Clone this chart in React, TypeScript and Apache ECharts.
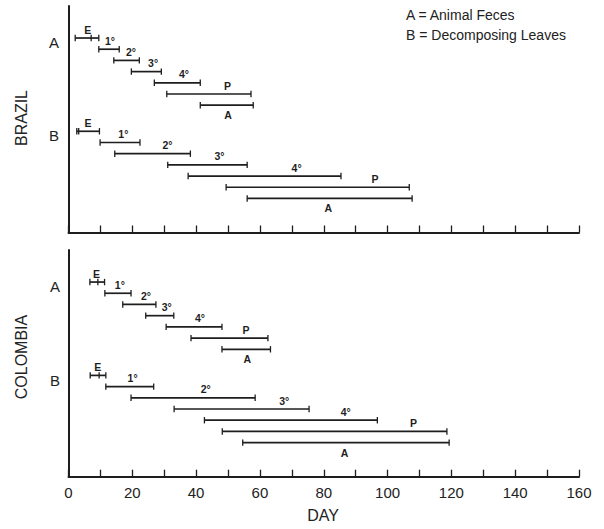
import React, { useEffect, useRef } from "react";
import * as echarts from "echarts";

// ---- data (days) ----
const stages = ["E", "1°", "2°", "3°", "4°", "P", "A"];
const dayTicks = [0, 20, 40, 60, 80, 100, 120, 140, 160];

// Brazil, A = animal feces
const brazilAStart = [2.1, 9.5, 14.2, 19.7, 26.9, 30.8, 41.3];
const brazilAEnd = [9.5, 15.9, 22.2, 29.1, 41.3, 57.2, 57.9];
const brazilALabelAt = [6.0, 13.0, 19.6, 26.5, 36.2, 49.8, 50.0];
const brazilAEggTick = 7.1;
// Brazil, B = decomposing leaves
const brazilBStart = [2.6, 9.9, 14.5, 31.1, 37.5, 49.4, 56.0];
const brazilBEnd = [9.7, 22.4, 38.2, 56.0, 85.4, 106.8, 107.7];
const brazilBLabelAt = [6.1, 17.2, 31.0, 47.3, 71.5, 96.1, 81.4];
const brazilBEggTick = 3.2;
// Colombia, A = animal feces
const colombiaAStart = [6.7, 11.4, 17.0, 24.2, 30.6, 38.4, 48.1];
const colombiaAEnd = [11.3, 19.6, 27.4, 33.0, 48.1, 62.5, 63.3];
const colombiaALabelAt = [8.8, 16.1, 24.3, 30.8, 41.2, 55.6, 56.0];
const colombiaAEggTick = 9.2;
// Colombia, B = decomposing leaves
const colombiaBStart = [6.8, 11.7, 19.6, 33.1, 42.6, 48.2, 54.6];
const colombiaBEnd = [11.7, 26.7, 58.5, 75.4, 96.8, 118.6, 119.3];
const colombiaBLabelAt = [9.2, 20.1, 43.0, 67.6, 86.9, 108.1, 86.5];
const colombiaBEggTick = 9.6;

const INK = "#1e1e1e";
const FONT = "'Liberation Sans', Arial, Helvetica, sans-serif";
const GROUP_B_OFFSET = 8.33;

type Group = { start: number[]; end: number[]; labelAt: number[]; egg: number; offset: number };

function makeSeries(gridIndex: number, groups: Group[]) {
  const data: number[][] = [];
  const meta: { label: string; labelAt: number; egg: number | null; below: boolean }[] = [];
  groups.forEach((g) => {
    stages.forEach((s, i) => {
      data.push([g.start[i], g.end[i], g.offset + i]);
      meta.push({ label: s, labelAt: g.labelAt[i], egg: i === 0 ? g.egg : null, below: s === "A" });
    });
  });
  return {
    type: "custom",
    xAxisIndex: gridIndex,
    yAxisIndex: gridIndex,
    encode: { x: [0, 1], y: 2 },
    data,
    renderItem: (params: any, api: any) => {
      const m = meta[params.dataIndex];
      const row = api.value(2);
      const a = api.coord([api.value(0), row]);
      const b = api.coord([api.value(1), row]);
      const l = api.coord([m.labelAt, row]);
      const cap = 3.2;
      const lw = 1.7;
      const children: any[] = [
        { type: "line", shape: { x1: a[0], y1: a[1], x2: b[0], y2: b[1] }, style: { stroke: INK, lineWidth: lw } },
        { type: "line", shape: { x1: a[0], y1: a[1] - cap, x2: a[0], y2: a[1] + cap }, style: { stroke: INK, lineWidth: 1.3 } },
        { type: "line", shape: { x1: b[0], y1: b[1] - cap, x2: b[0], y2: b[1] + cap }, style: { stroke: INK, lineWidth: 1.3 } },
        {
          type: "text",
          x: l[0],
          y: a[1] + (m.below ? 10 : -8.5),
          style: { text: m.label, fill: INK, font: `bold 10.5px ${FONT}`, align: "center", verticalAlign: "middle" },
        },
      ];
      if (m.egg !== null) {
        const e = api.coord([m.egg, row]);
        children.push({ type: "line", shape: { x1: e[0], y1: e[1] - cap, x2: e[0], y2: e[1] + cap }, style: { stroke: INK, lineWidth: 1.3 } });
      }
      return { type: "group", children };
    },
  };
}

export default function App() {
  const ref = useRef<HTMLDivElement>(null);
  useEffect(() => {
    if (!ref.current) return;
    const chart = echarts.init(ref.current, null, { renderer: "svg" });
    const xAxisBase = (gridIndex: number, showLabels: boolean) => ({
      type: "value",
      gridIndex,
      position: "bottom",
      min: 0,
      max: 160,
      interval: 10,
      axisLine: { show: true, onZero: false, lineStyle: { color: INK, width: 2 } },
      axisTick: { show: true, inside: true, length: 7, lineStyle: { color: INK, width: 1.3 } },
      splitLine: { show: false },
      axisLabel: {
        show: showLabels,
        margin: 8,
        color: "#222",
        fontSize: 15,
        fontFamily: FONT,
        formatter: (v: number) => (dayTicks.includes(v) ? String(v) : ""),
      },
    });
    const yAxisBase = (gridIndex: number) => ({
      type: "value",
      gridIndex,
      position: "left",
      inverse: true,
      min: -2.86,
      max: 17.37,
      axisLine: { show: true, onZero: false, lineStyle: { color: INK, width: 2 } },
      axisTick: { show: false },
      axisLabel: { show: false },
      splitLine: { show: false },
    });
    const txt = (text: string, x: number, y: number, size: number, extra: any = {}) => ({
      type: "text",
      x,
      y,
      ...extra,
      style: { text, fill: "#222", font: `${size}px ${FONT}`, align: "center", verticalAlign: "middle", ...(extra.style || {}) },
    });
    chart.setOption({
      animation: false,
      backgroundColor: "#ffffff",
      grid: [
        { left: 68.5, right: 25, top: 6, height: 226.5 },
        { left: 68.5, right: 25, top: 250, height: 226.7 },
      ],
      xAxis: [xAxisBase(0, false), xAxisBase(1, true)],
      yAxis: [yAxisBase(0), yAxisBase(1)],
      series: [
        makeSeries(0, [
          { start: brazilAStart, end: brazilAEnd, labelAt: brazilALabelAt, egg: brazilAEggTick, offset: 0 },
          { start: brazilBStart, end: brazilBEnd, labelAt: brazilBLabelAt, egg: brazilBEggTick, offset: GROUP_B_OFFSET },
        ]),
        makeSeries(1, [
          { start: colombiaAStart, end: colombiaAEnd, labelAt: colombiaALabelAt, egg: colombiaAEggTick, offset: 0 },
          { start: colombiaBStart, end: colombiaBEnd, labelAt: colombiaBLabelAt, egg: colombiaBEggTick, offset: GROUP_B_OFFSET },
        ]),
      ],
      graphic: [
        txt("A = Animal Feces", 406, 15, 14, { style: { align: "left" } }),
        txt("B = Decomposing Leaves", 406, 35, 14, { style: { align: "left" } }),
        txt("A", 54, 42, 15),
        txt("B", 54, 135, 15),
        txt("A", 55, 286, 15),
        txt("B", 55, 380, 15),
        txt("BRAZIL", 21, 118, 16, { rotation: Math.PI / 2 }),
        txt("COLOMBIA", 21, 357, 16, { rotation: Math.PI / 2 }),
        txt("DAY", 323, 515, 16),
      ],
    });
    return () => chart.dispose();
  }, []);
  return <div ref={ref} style={{ position: "fixed", left: 0, top: 0, width: 604, height: 529 }} />;
}
